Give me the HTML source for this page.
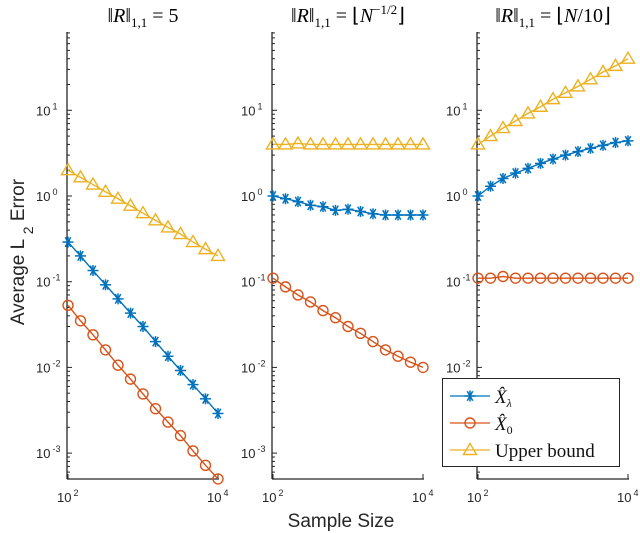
<!DOCTYPE html>
<html><head><meta charset="utf-8"><style>
body{margin:0;background:#fff}
svg{display:block;font-family:"Liberation Sans",sans-serif}
</style></head><body>
<svg id="c" width="640" height="533"></svg>
<script>
const xs=[100,146.8,215.4,316.2,464.2,681.3,1000,1467.8,2154.4,3162.3,4641.6,6812.9,10000];
const p1Upper=[2.0,1.65,1.36,1.12,0.93,0.77,0.63,0.52,0.43,0.36,0.29,0.24,0.2];
const p1Lambda=[0.29,0.2,0.135,0.092,0.063,0.043,0.030,0.020,0.0135,0.0092,0.0063,0.0043,0.0029];
const p1Zero=[0.053,0.035,0.024,0.016,0.0106,0.0073,0.0049,0.0033,0.0023,0.0016,0.00106,0.00072,0.0005];
const p2Upper=[4.0,4.0,4.1,4.0,4.0,4.0,4.0,4.0,4.0,4.0,4.0,4.0,4.0];
const p2Lambda=[1.0,0.93,0.86,0.78,0.75,0.68,0.7,0.66,0.62,0.6,0.6,0.6,0.6];
const p2Zero=[0.11,0.087,0.07,0.058,0.046,0.038,0.030,0.025,0.020,0.016,0.0135,0.0115,0.01];
const p3Upper=[4.0,5.0,6.2,7.5,9.2,11,13.5,16,19,23,28,33,40];
const p3Lambda=[1.0,1.3,1.6,1.85,2.1,2.4,2.7,3.0,3.3,3.6,3.9,4.2,4.4];
const p3Zero=[0.11,0.11,0.115,0.11,0.11,0.11,0.11,0.11,0.11,0.11,0.11,0.11,0.11];
const titles=["‖<tspan font-style='italic'>R</tspan>‖<tspan font-size='13' dy='5'>1,1</tspan><tspan dy='-5'> = 5</tspan>","‖<tspan font-style='italic'>R</tspan>‖<tspan font-size='13' dy='5'>1,1</tspan><tspan dy='-5'> = ⌊</tspan><tspan font-style='italic'>N</tspan><tspan font-size='13' dy='-8'>−1/2</tspan><tspan dy='8'>⌋</tspan>","‖<tspan font-style='italic'>R</tspan>‖<tspan font-size='13' dy='5'>1,1</tspan><tspan dy='-5'> = ⌊</tspan><tspan font-style='italic'>N</tspan><tspan>/10⌋</tspan>"];
const NS="http://www.w3.org/2000/svg",svg=document.getElementById('c');
const BLUE="#0072BD",RED="#D95319",YEL="#EDB120";
function mk(t,a,p){const e=document.createElementNS(NS,t);for(const k in a)e.setAttribute(k,a[k]);(p||svg).appendChild(e);return e;}
const yTop=32,yBot=479,yDec=85.7,y0=196;
const ys=v=>y0-Math.log10(v)*yDec;
const panels=[{x0:68,d:[p1Lambda,p1Zero,p1Upper]},{x0:273,d:[p2Lambda,p2Zero,p2Upper]},{x0:478,d:[p3Lambda,p3Zero,p3Upper]}];
function marker(g,type,x,y,c){
 if(type==0){for(const a of [0,60,120]){const r=a*Math.PI/180;mk('line',{x1:x-5.5*Math.cos(r),y1:y-5.5*Math.sin(r),x2:x+5.5*Math.cos(r),y2:y+5.5*Math.sin(r),stroke:c,'stroke-width':1.5},g);}mk('line',{x1:x,y1:y-5.5,x2:x,y2:y+5.5,stroke:c,'stroke-width':1.5},g);}
 else if(type==1)mk('circle',{cx:x,cy:y,r:5,fill:'none',stroke:c,'stroke-width':1.4},g);
 else mk('path',{d:`M${x},${y-6.5}L${x+6.5},${y+4.5}L${x-6.5},${y+4.5}Z`,fill:'none',stroke:c,'stroke-width':1.4},g);
}
panels.forEach((p,i)=>{
 const w=150,xsc=v=>p.x0+(Math.log10(v)-2)/2*w;
 const g=mk('g',{});
 
 
 const t=mk('text',{x:p.x0+w/2,y:22,'text-anchor':'middle','font-size':20,'font-family':'Liberation Serif,serif'},g);t.innerHTML=titles[i];
 
 
 mk('line',{x1:p.x0-1,y1:yTop,x2:p.x0-1,y2:yBot,stroke:'#262626','stroke-width':1.3},g);
 mk('line',{x1:p.x0-1,y1:yBot,x2:p.x0+w+1,y2:yBot,stroke:'#262626','stroke-width':1.3},g);
 for(let e=-4;e<=1;e++)for(let m=1;m<10;m++){const v=m*Math.pow(10,e);const y=ys(v);if(y<yTop||y>yBot)continue;
  mk('line',{x1:p.x0-1,y1:y,x2:p.x0-1+(m==1?5:3),y2:y,stroke:'#262626','stroke-width':1},g);
  if(m==1){const tl=mk('text',{x:p.x0-32,y:y+5,'font-size':13,fill:'#262626'},g);tl.innerHTML='10<tspan font-size="9" dx="2" dy="-6">'+e+'</tspan>';
   
   }}
 [2,4].forEach(e=>{const x=xsc(Math.pow(10,e));mk('line',{x1:x,y1:yBot,x2:x,y2:yBot-5,stroke:'#262626','stroke-width':1},g);});
 [2,4].forEach(e=>{const tl=mk('text',{x:xsc(Math.pow(10,e))-11,y:502,'font-size':13,fill:'#262626'},g);tl.innerHTML='10<tspan font-size="9" dx="2" dy="-6">'+e+'</tspan>';
  
  });
 const cols=[BLUE,RED,YEL];
 p.d.forEach((arr,k)=>{
  const pl=mk('polyline',{points:arr.map((v,j)=>xsc(xs[j])+','+ys(v)).join(' '),fill:'none',stroke:cols[k],'stroke-width':1.4},g);
  
  
  arr.forEach((v,j)=>marker(g,k,xsc(xs[j]),ys(v),cols[k]));
 });
});
const yl=mk('text',{x:0,y:0,transform:'translate(24,252) rotate(-90)','text-anchor':'middle','font-size':19,fill:'#262626'});
yl.innerHTML='Average L <tspan font-size="14" dy="9">2</tspan><tspan dy="-9"> Error</tspan>';


const xl=mk('text',{x:341,y:527,'text-anchor':'middle','font-size':19,fill:'#262626'});xl.textContent='Sample Size';


const lg=mk('g',{});


mk('rect',{x:442.5,y:378.5,width:177,height:88,fill:'#fff',stroke:'#262626','stroke-width':1},lg);
const labs=["<tspan font-style='italic'>X̂</tspan><tspan font-size='12' dy='4' font-style='italic'>λ</tspan>","<tspan font-style='italic'>X̂</tspan><tspan font-size='12' dy='4'>0</tspan>","Upper bound"];
[BLUE,RED,YEL].forEach((c,k)=>{const y=396+k*27;const e=mk('g',{},lg);
 
 
 mk('line',{x1:450,y1:y,x2:490,y2:y,stroke:c,'stroke-width':1.3},e);marker(e,k,470,y,c);
 const t=mk('text',{x:495,y:y+7,'font-size':19,'font-family':'Liberation Serif,serif',fill:'#111'},e);t.innerHTML=labs[k];});
</script>
</body></html>
